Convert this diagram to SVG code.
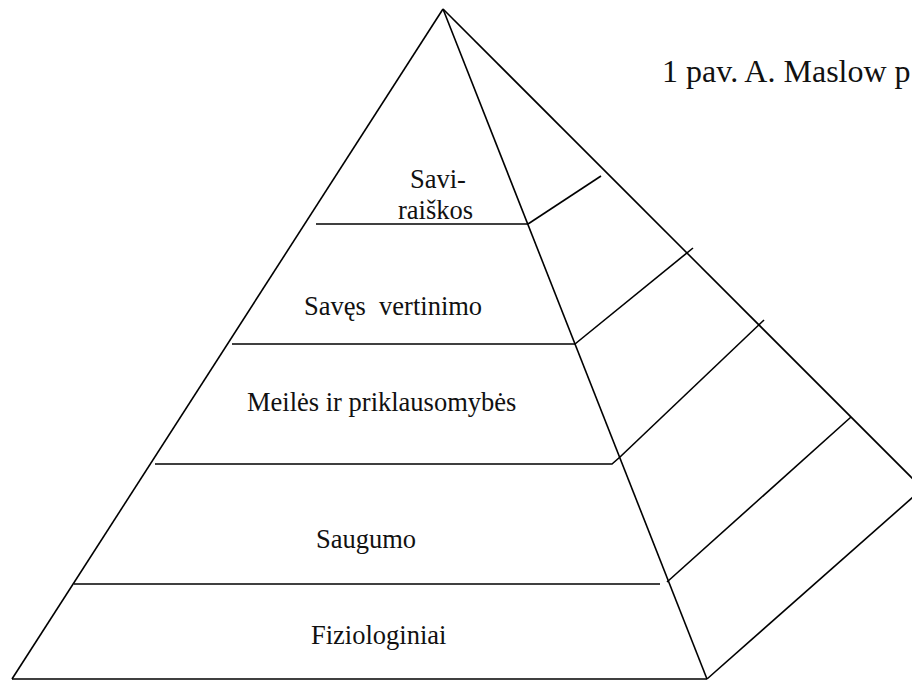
<svg xmlns="http://www.w3.org/2000/svg" width="912" height="681" viewBox="0 0 912 681">
  <style>
    .edge { stroke: #000; stroke-width: 1.6; fill: none; stroke-linecap: butt; stroke-linejoin: miter; }
    .lbl { font-family: "Liberation Serif", "Times New Roman", serif; font-size: 26.5px; fill: #111; }
    .cap { font-family: "Liberation Serif", "Times New Roman", serif; font-size: 32px; fill: #111; }
  </style>
  <rect width="912" height="681" fill="#fff"/>

  <!-- pyramid outline and level dividers -->
  <g id="connectors">
    <!-- outer edges -->
    <line class="edge" x1="443" y1="9" x2="12" y2="679"/>
    <line class="edge" x1="443" y1="9" x2="930" y2="496"/>
    <line class="edge" x1="443" y1="9" x2="707" y2="679"/>
    <line class="edge" x1="12" y1="679" x2="707" y2="679"/>
    <line class="edge" x1="707" y1="679" x2="930" y2="482"/>
    <!-- level dividers: front face -->
    <line class="edge" x1="316" y1="224" x2="528" y2="224"/>
    <line class="edge" x1="232" y1="344" x2="575" y2="344"/>
    <polyline class="edge" points="155,464 612,464 620,457"/>
    <line class="edge" x1="74" y1="584" x2="660" y2="584"/>
    <!-- level dividers: side face -->
    <line class="edge" x1="528" y1="224" x2="601" y2="176"/>
    <line class="edge" x1="575" y1="344" x2="693" y2="248"/>
    <line class="edge" x1="620" y1="457" x2="764" y2="320"/>
    <line class="edge" x1="667" y1="582" x2="851" y2="417"/>
  </g>

  <g id="caption">
    <text class="cap" x="662" y="82">1 pav. A. Maslow p</text>
  </g>

  <g id="level-saviraiskos">
    <text class="lbl" x="410" y="188">Savi-</text>
    <text class="lbl" x="398" y="219">raiškos</text>
  </g>
  <g id="level-saves-vertinimo">
    <text class="lbl" x="304" y="315" xml:space="preserve">Savęs  vertinimo</text>
  </g>
  <g id="level-meiles">
    <text class="lbl" x="247" y="411">Meilės ir priklausomybės</text>
  </g>
  <g id="level-saugumo">
    <text class="lbl" x="316" y="548">Saugumo</text>
  </g>
  <g id="level-fiziologiniai">
    <text class="lbl" x="311" y="644">Fiziologiniai</text>
  </g>
</svg>
